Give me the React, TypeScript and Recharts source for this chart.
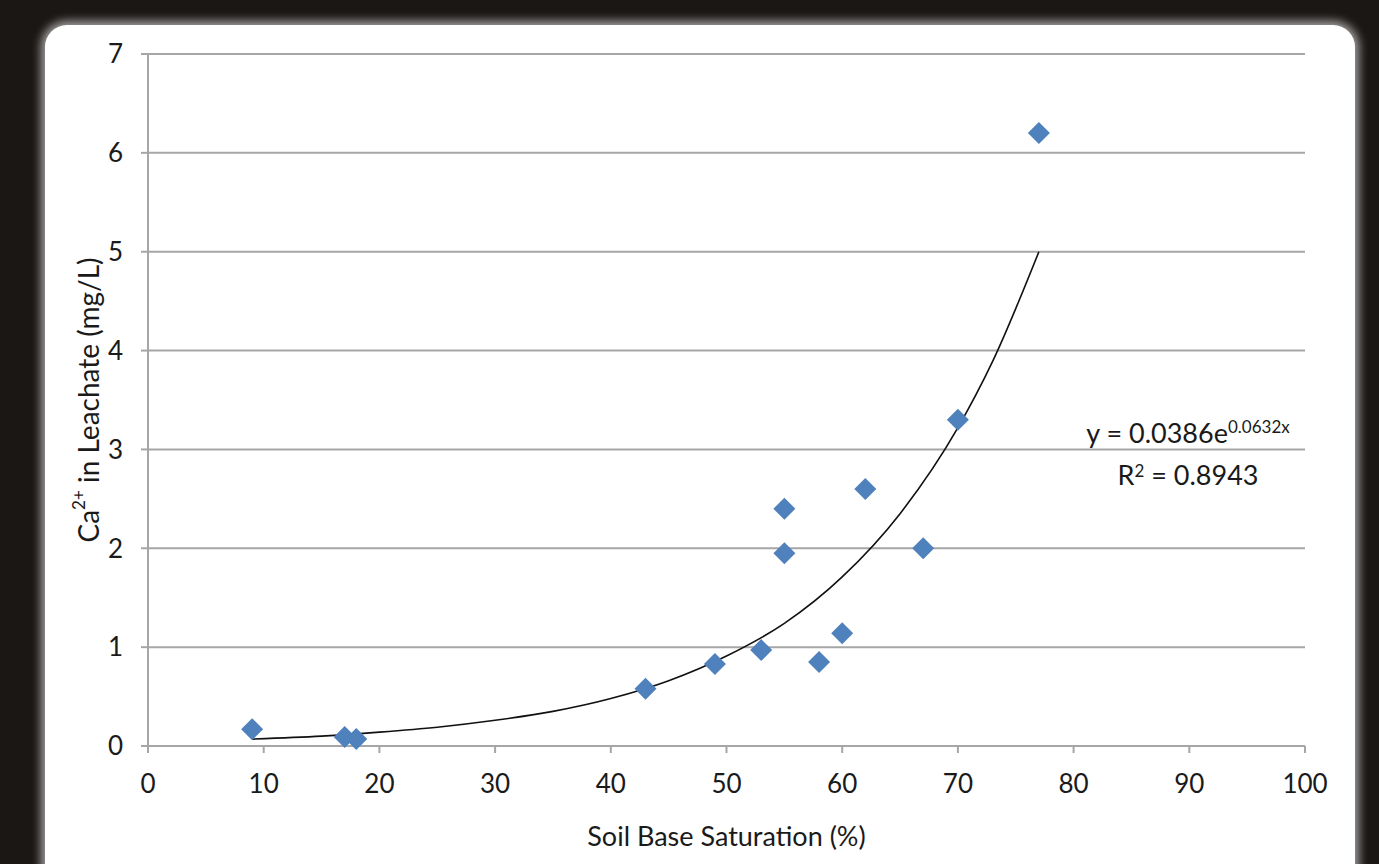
import React from "react"
import { ComposedChart, Scatter, Line, XAxis, YAxis, CartesianGrid } from "recharts"

// measured points (soil base saturation %, Ca2+ mg/L)
const satValues = [9, 17, 18, 43, 49, 53, 55, 55, 58, 60, 62, 67, 70, 77]
const caValues = [0.17, 0.09, 0.07, 0.58, 0.83, 0.97, 2.4, 1.95, 0.85, 1.14, 2.6, 2.0, 3.3, 6.2]

// exponential trendline
const trendX = [9, 15, 20, 25, 30, 35, 40, 45, 50, 55, 60, 65, 70, 73, 77]
const trendY = [0.07, 0.1, 0.14, 0.19, 0.26, 0.35, 0.48, 0.66, 0.91, 1.24, 1.71, 2.35, 3.22, 3.89, 5.0]

const xTicks = [0, 10, 20, 30, 40, 50, 60, 70, 80, 90, 100]
const yTicks = [0, 1, 2, 3, 4, 5, 6, 7]

const points = satValues.map((x, i) => ({ x, y: caValues[i] }))
const trend = trendX.map((x, i) => ({ x, y: trendY[i] }))

const font = "Lato, 'Open Sans', sans-serif"

const Diamond = (props: any) => {
  const { cx, cy } = props
  const r = 11
  return (
    <polygon
      points={`${cx},${cy - r} ${cx + r},${cy} ${cx},${cy + r} ${cx - r},${cy}`}
      fill="#4f81bd"
    />
  )
}

const YLabel = (props: any) => {
  const { viewBox } = props
  const x = 88
  const y = viewBox.y + viewBox.height / 2
  return (
    <text
      x={x}
      y={y}
      transform={`rotate(-90, ${x}, ${y})`}
      textAnchor="middle"
      dominantBaseline="central"
      fontSize={28}
      fill="#1a1a1a"
      fontFamily={font}
    >
      Ca<tspan dy={-10} fontSize={17}>2+</tspan>
      <tspan dy={10}> in Leachate (mg/L)</tspan>
    </text>
  )
}

export default function App() {
  return (
    <div
      style={{
        position: "fixed",
        left: 0,
        top: 0,
        width: 1379,
        height: 864,
        background: "#1b1715",
        overflow: "hidden",
      }}
    >
      <div
        style={{
          position: "absolute",
          left: 45,
          top: 25,
          width: 1310,
          height: 900,
          background: "#ffffff",
          borderRadius: 22,
          boxShadow: "0 0 10px 4px rgba(255,255,255,0.6)",
        }}
      />
      <div style={{ position: "absolute", left: 0, top: 0 }}>
        <ComposedChart
          width={1379}
          height={864}
          margin={{ top: 54, right: 74, bottom: 48, left: 88 }}
        >
          <CartesianGrid vertical={false} stroke="#a6a6a6" strokeWidth={2} />
          <XAxis
            type="number"
            dataKey="x"
            domain={[0, 100]}
            ticks={xTicks}
            interval={0}
            height={70}
            stroke="#a6a6a6"
            strokeWidth={2}
            tickSize={7}
            tickMargin={22}
            tick={{ fill: "#1a1a1a", fontSize: 26, fontFamily: font }}
            label={{
              value: "Soil Base Saturation (%)",
              position: "insideBottom",
              offset: -30,
              fill: "#1a1a1a",
              fontSize: 27,
              fontFamily: font,
            }}
          />
          <YAxis
            type="number"
            dataKey="y"
            domain={[0, 7]}
            ticks={yTicks}
            interval={0}
            width={60}
            stroke="#a6a6a6"
            strokeWidth={2}
            tickSize={7}
            tickMargin={18}
            tick={{ fill: "#1a1a1a", fontSize: 26, fontFamily: font }}
            label={<YLabel />}
          />
          <Line
            data={trend}
            dataKey="y"
            type="monotone"
            stroke="#111111"
            strokeWidth={1.6}
            dot={false}
            isAnimationActive={false}
          />
          <Scatter data={points} dataKey="y" shape={<Diamond />} isAnimationActive={false} />
        </ComposedChart>
      </div>
      <div
        style={{
          position: "absolute",
          left: 1052,
          top: 408,
          width: 272,
          textAlign: "center",
          fontFamily: font,
          fontSize: 27,
          color: "#1a1a1a",
          lineHeight: "38px",
        }}
      >
        <div>
          y = 0.0386e<sup style={{ fontSize: 17, verticalAlign: 10 }}>0.0632x</sup>
        </div>
        <div>
          R<sup style={{ fontSize: 17, verticalAlign: 8 }}>2</sup> = 0.8943
        </div>
      </div>
    </div>
  )
}
